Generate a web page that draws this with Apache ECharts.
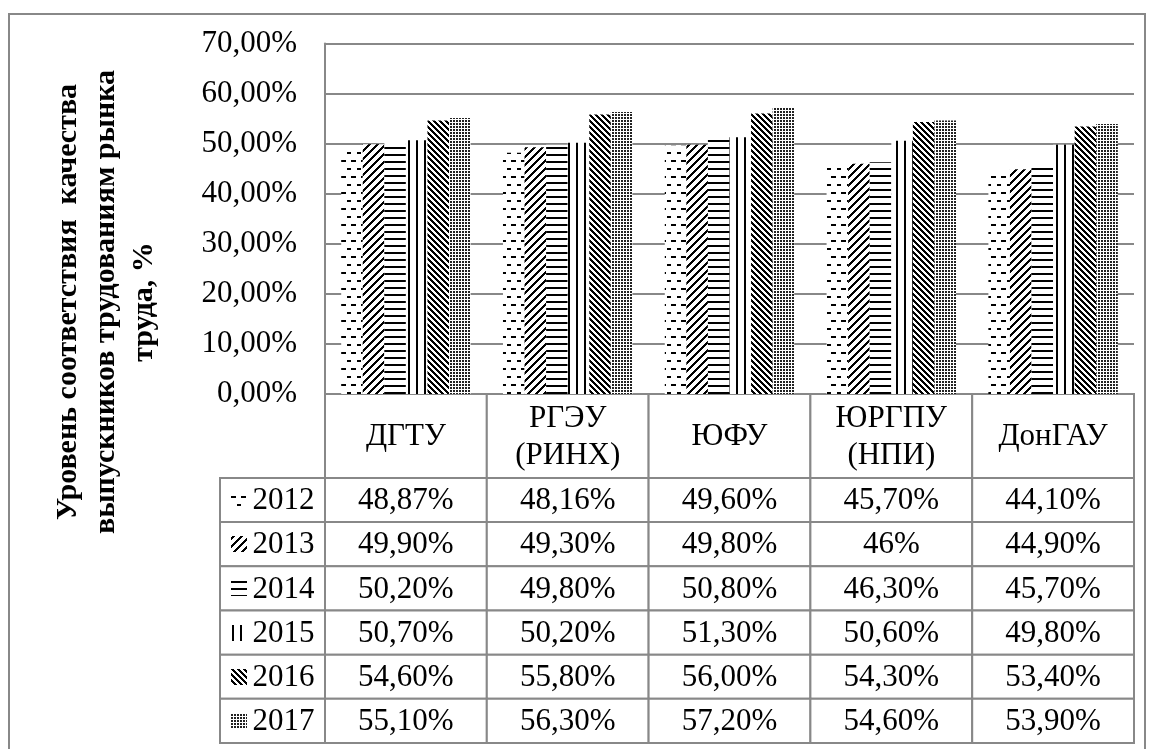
<!DOCTYPE html>
<html><head><meta charset="utf-8">
<script src="https://cdn.jsdelivr.net/npm/echarts@6/dist/echarts.min.js"></script>
<style>html,body{margin:0;padding:0;background:#fff}#c{width:1153px;height:749px}</style>
</head><body><div id="c"></div>
<script>
// ---------- data ----------
const categories = ['ДГТУ', 'РГЭУ\n(РИНХ)', 'ЮФУ', 'ЮРГПУ\n(НПИ)', 'ДонГАУ'];
const years = ['2012', '2013', '2014', '2015', '2016', '2017'];
const v2012 = [48.87, 48.16, 49.60, 45.70, 44.10];
const v2013 = [49.90, 49.30, 49.80, 46.00, 44.90];
const v2014 = [50.20, 49.80, 50.80, 46.30, 45.70];
const v2015 = [50.70, 50.20, 51.30, 50.60, 49.80];
const v2016 = [54.60, 55.80, 56.00, 54.30, 53.40];
const v2017 = [55.10, 56.30, 57.20, 54.60, 53.90];
const seriesValues = [v2012, v2013, v2014, v2015, v2016, v2017];
// table cells that are printed without decimals in the source
const labelOverrides = [{ year: '2013', cat: 3, text: '46%' }];
const yMin = 0, yMax = 70, yStep = 10;
const axisTitle = 'Уровень соответствия  качества\nвыпускников трудованиям рынка\nтруда, %';

// ---------- styling ----------
const FONT = '"Liberation Serif", "Times New Roman", serif';
const GRAY = '#888888';
const gridLeft = 325, gridRight = 19, gridTop = 43.5, gridBottomY = 394;
const legendColPx = 105;
const tableBottomY = 743;
const headerUnits = 1.9;

function fmtPct(v) { return v.toFixed(2).replace('.', ',') + '%'; }

function pat(w, h, fn, fg) {
  const c = document.createElement('canvas');
  c.width = w; c.height = h;
  const g = c.getContext('2d');
  g.fillStyle = '#fff'; g.fillRect(0, 0, w, h);
  g.fillStyle = fg || '#000';
  for (let y = 0; y < h; y++) for (let x = 0; x < w; x++) if (fn(x, y)) g.fillRect(x, y, 1, 1);
  return { image: c, repeat: 'repeat' };
}
const patterns = [
  pat(10, 16, (x, y) => (y < 2 && x >= 1 && x <= 5) || (y >= 8 && y < 10 && (x >= 7 || x === 0))),
  pat(8, 8, (x, y) => ((x + y) % 8) < 3),
  pat(1, 7, (x, y) => y < 2),
  pat(8, 1, (x, y) => x < 2),
  pat(6, 6, (x, y) => (((x - y) % 6) + 6) % 6 < 3),
  pat(3, 3, (x, y) => x < 2 && y < 2, '#222')
];

// ---------- table cells ----------
function cellLabel(r, i) {
  const o = labelOverrides.find(d => d.year === years[r] && d.cat === i);
  return o ? o.text : fmtPct(seriesValues[r][i]);
}
const chartW = 1153;
const catPx = (chartW - gridRight - gridLeft) / categories.length;
const legendUnits = legendColPx / catPx;
const cells = [];
categories.forEach((c, i) => cells.push({ x0: i, x1: i + 1, y0: 0, y1: headerUnits, text: c, kind: 'h' }));
years.forEach((yr, r) => {
  cells.push({ x0: -legendUnits, x1: 0, y0: headerUnits + r, y1: headerUnits + r + 1, text: yr, kind: 'l', s: r });
  categories.forEach((c, i) => cells.push({ x0: i, x1: i + 1, y0: headerUnits + r, y1: headerUnits + r + 1, text: cellLabel(r, i), kind: 'd' }));
});

const chart = echarts.init(document.getElementById('c'), null, { renderer: 'canvas' });

const barSeries = years.map((yr, s) => ({
  name: yr, type: 'bar', xAxisIndex: 0, yAxisIndex: 0,
  data: seriesValues[s], barGap: '0%', barCategoryGap: '20%',
  itemStyle: { color: patterns[s] }, animation: false
}));

const tableSeries = {
  type: 'custom', xAxisIndex: 1, yAxisIndex: 1, animation: false, silent: true,
  data: cells.map(c => [c.x0, c.y0, c.x1, c.y1]),
  encode: { x: [0, 2], y: [1, 3] },
  renderItem(params, api) {
    const c = cells[params.dataIndex];
    const p0 = api.coord([c.x0, c.y0]);
    const p1 = api.coord([c.x1, c.y1]);
    const x = p0[0], y = p0[1], w = p1[0] - p0[0], h = p1[1] - p0[1];
    const children = [{ type: 'rect', shape: { x, y, width: w, height: h },
      style: { fill: '#fff', stroke: GRAY, lineWidth: 2 } }];
    const font = '31px ' + FONT;
    if (c.kind === 'l') {
      const sym = 16, gap = 6, tw = 62;
      const sx = x + (w - (sym + gap + tw)) / 2;
      children.push({ type: 'rect', shape: { x: Math.round(sx), y: Math.round(y + h / 2 - sym / 2), width: sym, height: sym },
        style: { fill: patterns[c.s] } });
      children.push({ type: 'text', style: { text: c.text, x: sx + sym + gap, y: y + h / 2 + 1,
        align: 'left', verticalAlign: 'middle', font, fill: '#000' } });
    } else {
      children.push({ type: 'text', style: { text: c.text, x: x + w / 2, y: y + h / 2 + 1,
        align: 'center', verticalAlign: 'middle', font, fill: '#000', lineHeight: 37 } });
    }
    return { type: 'group', children };
  }
};

chart.setOption({
  animation: false,
  backgroundColor: '#fff',
  grid: [
    { left: gridLeft, right: gridRight, top: gridTop, height: gridBottomY - gridTop },
    { left: gridLeft - legendColPx, right: gridRight, top: gridBottomY, height: tableBottomY - gridBottomY }
  ],
  xAxis: [
    { type: 'category', gridIndex: 0, data: categories,
      axisLabel: { show: false }, axisTick: { show: false },
      axisLine: { lineStyle: { color: GRAY, width: 2 } } },
    { type: 'value', gridIndex: 1, min: -legendUnits, max: categories.length,
      show: false, splitLine: { show: false } }
  ],
  yAxis: [
    { type: 'value', gridIndex: 0, min: yMin, max: yMax, interval: yStep,
      axisLine: { show: true, lineStyle: { color: GRAY, width: 2 } },
      axisTick: { show: false },
      splitLine: { lineStyle: { color: GRAY, width: 2 } },
      axisLabel: { formatter: v => fmtPct(v), color: '#000', fontFamily: FONT, fontSize: 31, margin: 28 } },
    { type: 'value', gridIndex: 1, min: 0, max: headerUnits + years.length, inverse: true,
      show: false, splitLine: { show: false } }
  ],
  series: [...barSeries, tableSeries],
  graphic: [
    { type: 'rect', silent: true, z: -10, shape: { x: 9, y: 14, width: 1136, height: 760 },
      style: { fill: 'rgba(0,0,0,0)', stroke: GRAY, lineWidth: 2 } },
    { type: 'text', silent: true, x: 106, y: 302, rotation: Math.PI / 2,
      style: { text: axisTitle, font: 'bold 30px ' + FONT, align: 'center', verticalAlign: 'middle',
        lineHeight: 38, fill: '#000' } }
  ]
});
</script></body></html>
